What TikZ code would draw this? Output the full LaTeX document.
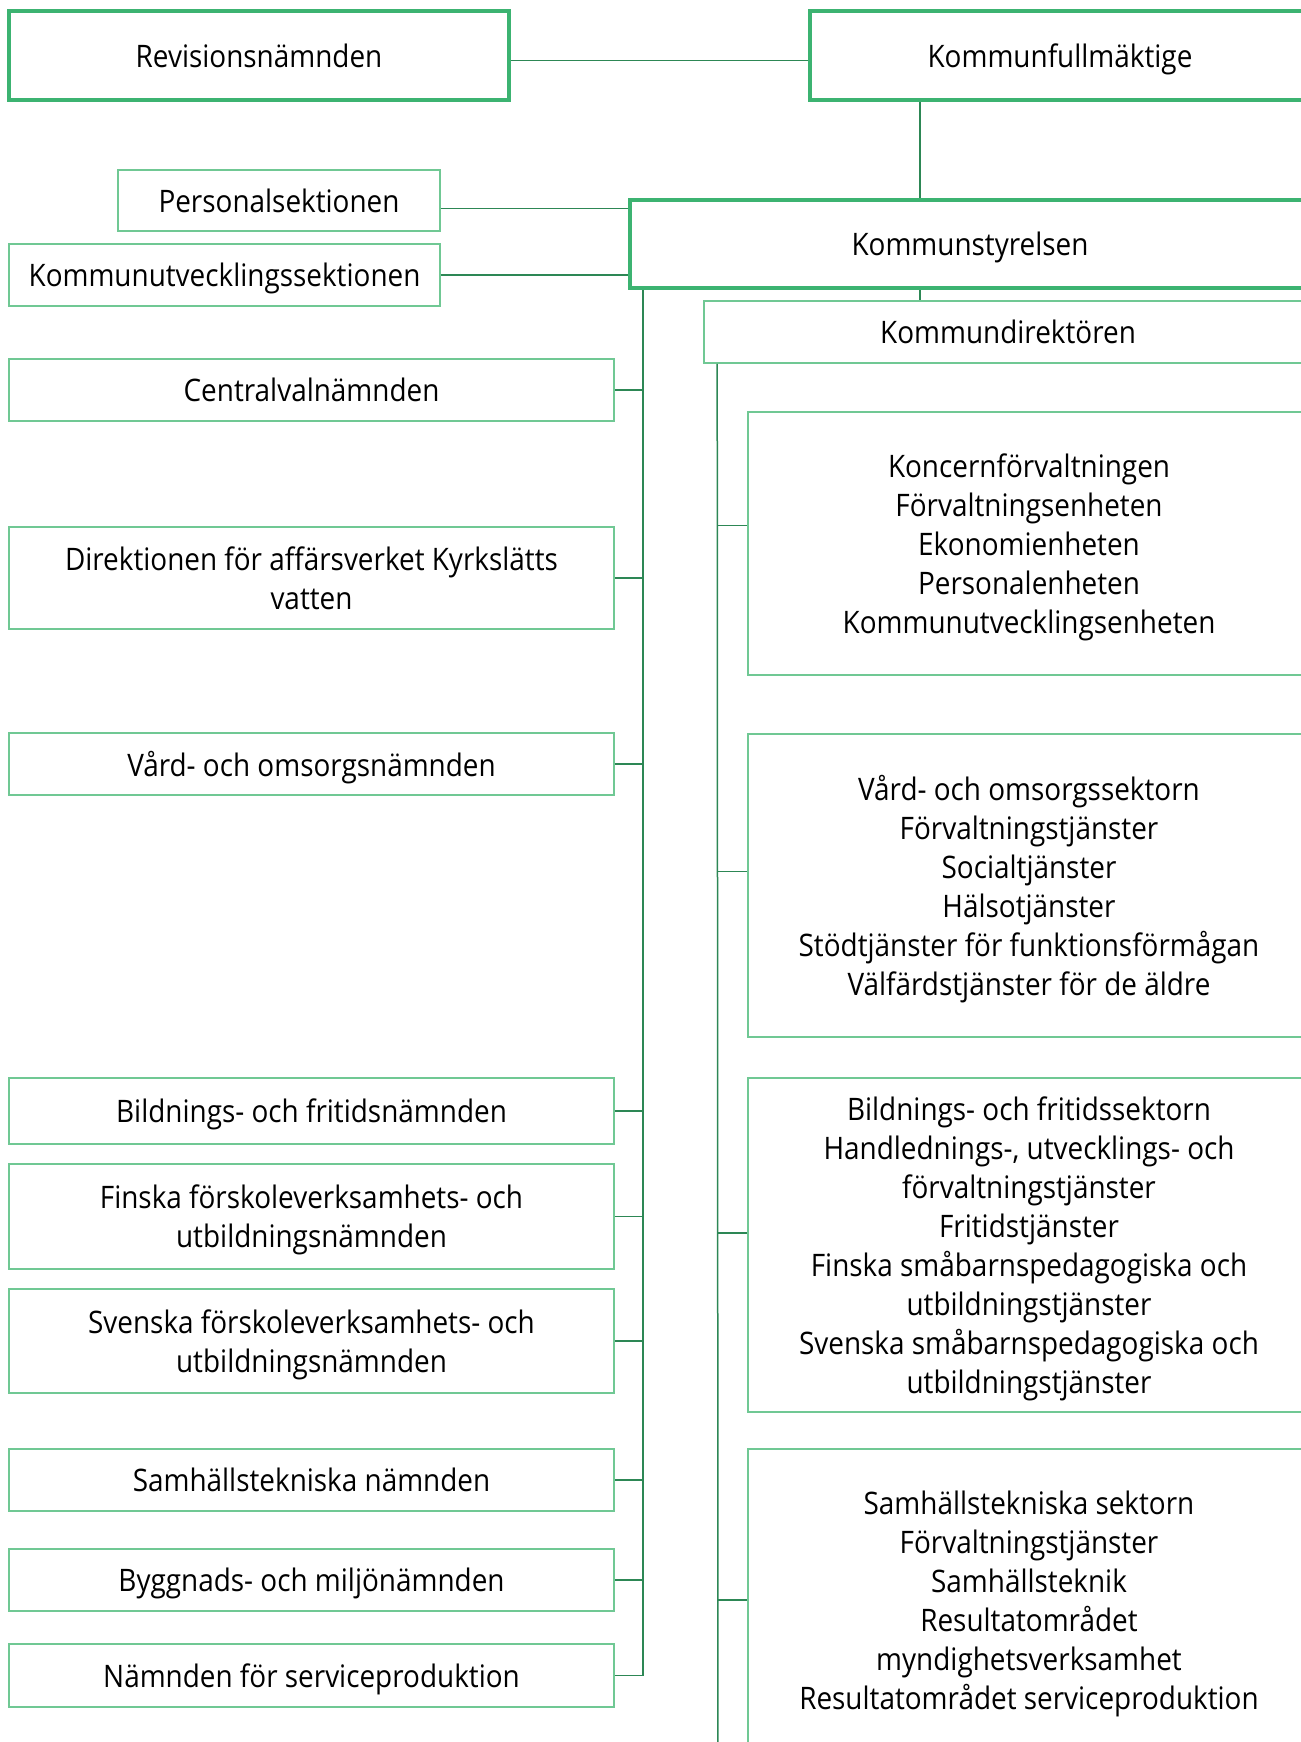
\documentclass[tikz,border=0pt]{standalone}
\usepackage{fontspec}
\setmainfont[FakeStretch=0.9]{Open Sans}
\usepackage{xcolor}
\usepackage{tikz}
\usetikzlibrary{positioning}
\usetikzlibrary{calc}
\definecolor{boxgreen}{RGB}{60,179,113}
\definecolor{lightgreen}{RGB}{112,200,148}
\definecolor{linegreen}{RGB}{45,135,85}

\begin{document}
\begin{tikzpicture}[x=0.5pt, y=-0.5pt,
  every node/.style={font=\fontsize{15.5}{19.5}\selectfont, align=center, inner sep=0pt, text depth=0pt},
  mainbox/.style={draw=boxgreen, line width=2pt, rectangle},
  subbox/.style={draw=lightgreen, line width=0.8pt, rectangle},
  link/.style={draw=linegreen, line width=0.75pt}]
\useasboundingbox (0,0) rectangle (1301,1742);
\node[mainbox, minimum width=250pt, minimum height=44.5pt] (rev) at (259,55.5) {Revisionsnämnden};
\node[mainbox, minimum width=250pt, minimum height=44.5pt] (kf) at (1060,55.5) {Kommunfullmäktige};
\node[mainbox, minimum width=340pt, minimum height=44pt] (ks) at (970,244) {Kommunstyrelsen};
\node[subbox, minimum width=161pt, minimum height=30.5pt] (pers) at (279,200.5) {Personalsektionen};
\node[subbox, minimum width=215.5pt, minimum height=31pt] (kus) at (224.5,275) {Kommunutvecklingssektionen};
\node[subbox, minimum width=304pt, minimum height=31pt] (kd) at (1008,332) {Kommundirektören};
\node[subbox, minimum width=302.5pt, minimum height=31pt] (cv) at (311.5,390) {Centralvalnämnden};
\node[subbox, minimum width=302.5pt, minimum height=51pt] (dir) at (311.5,578) {Direktionen för affärsverket Kyrkslätts\\vatten};
\node[subbox, minimum width=302.5pt, minimum height=31pt] (von) at (311.5,764) {Vård- och omsorgsnämnden};
\node[subbox, minimum width=302.5pt, minimum height=33pt] (bfn) at (311.5,1111) {Bildnings- och fritidsnämnden};
\node[subbox, minimum width=302.5pt, minimum height=52.5pt] (ffn) at (311.5,1216.5) {Finska förskoleverksamhets- och\\utbildningsnämnden};
\node[subbox, minimum width=302.5pt, minimum height=52pt] (sfn) at (311.5,1341) {Svenska förskoleverksamhets- och\\utbildningsnämnden};
\node[subbox, minimum width=302.5pt, minimum height=31pt] (stn) at (311.5,1480) {Samhällstekniska nämnden};
\node[subbox, minimum width=302.5pt, minimum height=31pt] (bmn) at (311.5,1580) {Byggnads- och miljönämnden};
\node[subbox, minimum width=302.5pt, minimum height=31.5pt] (nsp) at (311.5,1675.5) {Nämnden för serviceproduktion};
\node[subbox, minimum width=281pt, minimum height=131.5pt] (kfv) at (1029,543.5) {Koncernförvaltningen\\Förvaltningsenheten\\Ekonomienheten\\Personalenheten\\Kommunutvecklingsenheten};
\node[subbox, minimum width=281pt, minimum height=151.5pt] (vos) at (1029,885.5) {Vård- och omsorgssektorn\\Förvaltningstjänster\\Socialtjänster\\Hälsotjänster\\Stödtjänster för funktionsförmågan\\Välfärdstjänster för de äldre};
\node[subbox, minimum width=281pt, minimum height=167pt] (bfs) at (1029,1245) {Bildnings- och fritidssektorn\\Handlednings-, utvecklings- och\\förvaltningstjänster\\Fritidstjänster\\Finska småbarnspedagogiska och\\utbildningstjänster\\Svenska småbarnspedagogiska och\\utbildningstjänster};
\node[subbox, minimum width=281pt, minimum height=151pt] (sts) at (1029,1600) {Samhällstekniska sektorn\\Förvaltningstjänster\\Samhällsteknik\\Resultatområdet\\myndighetsverksamhet\\Resultatområdet serviceproduktion};
\coordinate (lspine) at ([xshift=7.5pt]ks.south west);
\coordinate (rspine) at ([xshift=7pt]kd.south west);
\coordinate (rend) at (718,1760);
\draw[link] ([yshift=-2.5pt]rev.east) -- ([yshift=-2.5pt]rev.east -| kf.west);
\draw[link] (kf.south -| 920,0) -- (ks.north -| 920,0);
\draw[link] (ks.south -| 920,0) -- (kd.north -| 920,0);
\draw[link] ([yshift=-4pt]pers.east) -- ([yshift=-4pt]pers.east -| ks.west);
\draw[link] (kus.east) -- (kus.east -| ks.west);
\draw[link] (lspine) -- (lspine |- nsp.east);
\draw[link] (rspine) -- (rend);
\draw[link] (cv.east) -- (cv.east -| lspine);
\draw[link] (dir.east) -- (dir.east -| lspine);
\draw[link] (von.east) -- (von.east -| lspine);
\draw[link] (bfn.east) -- (bfn.east -| lspine);
\draw[link] (ffn.east) -- (ffn.east -| lspine);
\draw[link] (sfn.east) -- (sfn.east -| lspine);
\draw[link] (stn.east) -- (stn.east -| lspine);
\draw[link] (bmn.east) -- (bmn.east -| lspine);
\draw[link] (nsp.east) -- (nsp.east -| lspine);
\draw[link] ([yshift=9pt]kfv.west) -- ([yshift=9pt]kfv.west -| rspine);
\draw[link] ([yshift=7pt]vos.west) -- ([yshift=7pt]vos.west -| rspine);
\draw[link] ([yshift=6pt]bfs.west) -- ([yshift=6pt]bfs.west -| rspine);
\draw[link] (sts.west) -- (sts.west -| rspine);
\end{tikzpicture}
\end{document}
